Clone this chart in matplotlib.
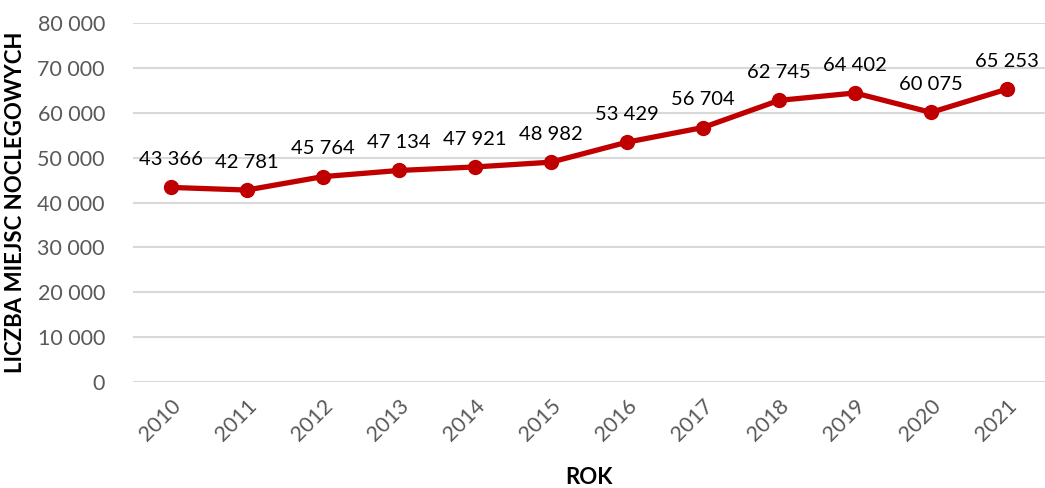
import matplotlib.pyplot as plt
from matplotlib.ticker import FuncFormatter

years = ['2010', '2011', '2012', '2013', '2014', '2015',
         '2016', '2017', '2018', '2019', '2020', '2021']
beds = [43366, 42781, 45764, 47134, 47921, 48982,
        53429, 56704, 62745, 64402, 60075, 65253]

plt.rcParams['font.family'] = ['Lato', 'DejaVu Sans']

def fmt(v):
    return f"{int(v):,}".replace(",", " ")

fig = plt.figure(figsize=(10.45, 4.88), dpi=100)
ax = fig.add_axes([0.127, 0.217, 0.873, 0.736])

x = list(range(len(years)))
ax.plot(x, beds, color='#C00000', linewidth=3.8, marker='o', markersize=10,
        zorder=3)

for xi, v in zip(x, beds):
    ax.annotate(fmt(v), (xi, v), xytext=(0, 14), textcoords='offset points',
                ha='center', va='bottom', fontsize=14.5, color='black')

ax.set_xlim(-0.5, len(years) - 0.5)
ax.set_ylim(0, 80000)
ax.set_yticks(range(0, 80001, 10000))
ax.yaxis.set_major_formatter(FuncFormatter(lambda v, p: fmt(v)))
ax.set_xticks(x)
ax.set_xticklabels(years, rotation=45, ha='right', rotation_mode='anchor')

ax.grid(axis='y', color='#D9D9D9', linewidth=1.5)
ax.set_axisbelow(True)
for s in ax.spines.values():
    s.set_visible(False)
ax.tick_params(length=0, labelsize=15.5, labelcolor='#595959')
ax.tick_params(axis='x', pad=10)
ax.tick_params(axis='y', pad=20)

ax.set_ylabel('LICZBA MIEJSC NOCLEGOWYCH', fontsize=16, fontweight='bold',
              labelpad=8)
ax.set_xlabel('ROK', fontsize=16, fontweight='bold', labelpad=16)

fig.savefig('out.png', dpi=100)
